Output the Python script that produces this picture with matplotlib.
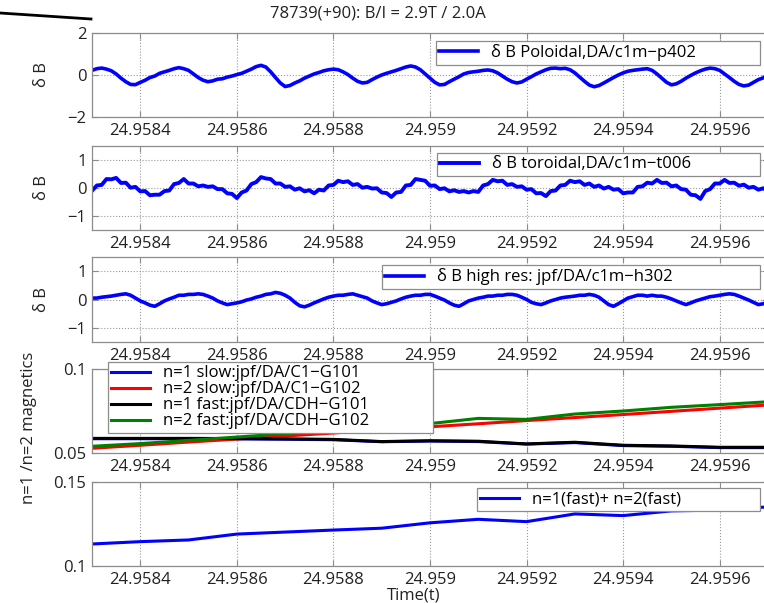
import numpy as np
import matplotlib.pyplot as plt
from matplotlib.lines import Line2D

plt.rcParams['font.family'] = ['Open Sans', 'DejaVu Sans']
plt.rcParams['font.size'] = 12

#%% Data
# fast signals: one sample every 10 us from 24.9583 to 24.9597
t_sig = np.linspace(24.9583, 24.9597, 141)

db_poloidal = [
    0.22, 0.30, 0.33, 0.28, 0.20, 0.05, -0.15, -0.32, -0.45, -0.46,
    -0.35, -0.25, -0.12, -0.05, 0.08, 0.15, 0.22, 0.30, 0.35, 0.30,
    0.22, 0.05, -0.12, -0.25, -0.32, -0.28, -0.20, -0.18, -0.10, -0.05,
    0.02, 0.08, 0.18, 0.28, 0.40, 0.46, 0.38, 0.15, -0.12, -0.38,
    -0.55, -0.50, -0.38, -0.28, -0.15, -0.05, 0.05, 0.12, 0.20, 0.25,
    0.28, 0.25, 0.15, 0.02, -0.15, -0.30, -0.38, -0.35, -0.22, -0.10,
    0.00, 0.08, 0.15, 0.22, 0.30, 0.38, 0.43, 0.38, 0.25, 0.05,
    -0.15, -0.35, -0.47, -0.45, -0.32, -0.20, -0.08, 0.05, 0.12, 0.15,
    0.18, 0.22, 0.24, 0.20, 0.10, -0.05, -0.20, -0.32, -0.38, -0.33,
    -0.20, -0.08, 0.05, 0.15, 0.25, 0.32, 0.33, 0.30, 0.32, 0.25,
    0.10, -0.10, -0.30, -0.48, -0.56, -0.50, -0.38, -0.25, -0.12, 0.00,
    0.10, 0.18, 0.22, 0.25, 0.28, 0.30, 0.22, 0.05, -0.15, -0.35,
    -0.47, -0.42, -0.30, -0.15, -0.02, 0.10, 0.20, 0.28, 0.33, 0.30,
    0.22, 0.05, -0.12, -0.30, -0.45, -0.52, -0.48, -0.35, -0.22, -0.14,
    -0.05]

db_toroidal = [
    -0.10, 0.09, 0.11, 0.32, 0.31, 0.36, 0.18, 0.19, 0.01, 0.04,
    -0.12, -0.11, -0.26, -0.24, -0.24, -0.11, -0.09, 0.14, 0.18, 0.32,
    0.16, 0.16, 0.06, 0.09, 0.04, 0.06, -0.04, -0.04, -0.19, -0.21,
    -0.36, -0.16, -0.09, 0.14, 0.21, 0.39, 0.34, 0.32, 0.16, 0.16,
    0.04, 0.06, -0.06, -0.01, -0.12, -0.08, -0.19, -0.06, -0.09, 0.09,
    0.11, 0.26, 0.21, 0.24, 0.11, 0.14, 0.01, 0.04, -0.02, -0.01,
    -0.16, -0.18, -0.32, -0.16, -0.14, 0.09, 0.11, 0.32, 0.29, 0.26,
    0.08, 0.09, -0.04, -0.01, -0.12, -0.08, -0.14, -0.11, -0.16, -0.11,
    -0.14, 0.09, 0.14, 0.29, 0.24, 0.26, 0.11, 0.14, 0.04, 0.06,
    -0.06, -0.04, -0.19, -0.18, -0.29, -0.11, -0.09, 0.09, 0.11, 0.26,
    0.21, 0.24, 0.11, 0.16, 0.04, 0.09, -0.02, 0.04, -0.06, -0.04,
    -0.19, -0.16, -0.16, 0.04, 0.06, 0.19, 0.16, 0.29, 0.18, 0.19,
    0.06, 0.09, -0.04, -0.06, -0.24, -0.26, -0.39, -0.11, -0.04, 0.16,
    0.16, 0.29, 0.18, 0.19, 0.08, 0.12, 0.01, 0.04, -0.06, -0.01,
    -0.12]

db_highres = [
    0.05, 0.05, 0.08, 0.10, 0.12, 0.15, 0.18, 0.20, 0.15, 0.05,
    -0.05, -0.12, -0.20, -0.24, -0.15, -0.05, 0.02, 0.08, 0.15, 0.15,
    0.18, 0.18, 0.20, 0.18, 0.12, 0.05, -0.05, -0.12, -0.18, -0.15,
    -0.12, -0.08, -0.02, 0.02, 0.08, 0.12, 0.18, 0.20, 0.25, 0.22,
    0.15, 0.05, -0.10, -0.22, -0.26, -0.20, -0.12, -0.05, 0.02, 0.08,
    0.12, 0.15, 0.15, 0.18, 0.20, 0.15, 0.10, 0.05, -0.05, -0.12,
    -0.18, -0.15, -0.10, -0.05, 0.02, 0.08, 0.12, 0.15, 0.15, 0.18,
    0.18, 0.12, 0.05, -0.02, -0.12, -0.20, -0.24, -0.15, -0.05, 0.00,
    0.05, 0.08, 0.12, 0.12, 0.15, 0.15, 0.18, 0.18, 0.15, 0.08,
    0.00, -0.10, -0.15, -0.18, -0.12, -0.05, 0.00, 0.05, 0.08, 0.10,
    0.12, 0.15, 0.15, 0.18, 0.15, 0.08, -0.05, -0.18, -0.24, -0.15,
    -0.05, 0.05, 0.10, 0.15, 0.15, 0.12, 0.15, 0.12, 0.12, 0.08,
    0.02, -0.05, -0.12, -0.18, -0.12, -0.05, 0.00, 0.05, 0.10, 0.12,
    0.15, 0.18, 0.20, 0.18, 0.12, 0.05, -0.02, -0.10, -0.18, -0.15,
    -0.10]

# mode amplitudes: one sample every 100 us
t_mode = [24.9583, 24.9584, 24.9585, 24.9586, 24.9587, 24.9588, 24.9589,
          24.9590, 24.9591, 24.9592, 24.9593, 24.9594, 24.9595, 24.9596,
          24.9597]
n1_slow = [0.0585, 0.0585, 0.0585, 0.0584, 0.0582, 0.0579, 0.0567, 0.0571,
           0.0568, 0.0553, 0.0562, 0.0544, 0.0540, 0.0532, 0.0532]
n2_slow = [0.0528, 0.0546, 0.0565, 0.0583, 0.0601, 0.0619, 0.0638, 0.0656,
           0.0674, 0.0693, 0.0711, 0.0729, 0.0748, 0.0767, 0.0786]
n1_fast = [0.0587, 0.0587, 0.0587, 0.0586, 0.0584, 0.0581, 0.0568, 0.0573,
           0.0570, 0.0554, 0.0564, 0.0546, 0.0542, 0.0534, 0.0534]
n2_fast = [0.0540, 0.0556, 0.0575, 0.0595, 0.0615, 0.0635, 0.0655, 0.0675,
           0.0706, 0.0700, 0.0732, 0.0750, 0.0772, 0.0788, 0.0805]
n12_fast = [0.1131, 0.1145, 0.1155, 0.1190, 0.1202, 0.1214, 0.1225, 0.1257,
            0.1278, 0.1264, 0.1310, 0.1300, 0.1328, 0.1333, 0.1352]

xtick_vals = [24.9584, 24.9586, 24.9588, 24.9590, 24.9592, 24.9594, 24.9596]
xtick_labels = ['24.9584', '24.9586', '24.9588', '24.959', '24.9592',
                '24.9594', '24.9596']

title = '78739(+90): B/I = 2.9T / 2.0A'
mode_labels = ['n=1 slow:jpf/DA/C1\u2212G101', 'n=2 slow:jpf/DA/C1\u2212G102',
               'n=1 fast:jpf/DA/CDH\u2212G101', 'n=2 fast:jpf/DA/CDH\u2212G102']

#%% Figure
W, H = 764, 603
fig = plt.figure(figsize=(W / 100, H / 100), dpi=100)
grey = '#8c8c8c'
ink = '#222222'


def axes_px(top, bottom, left=92, right=768):
    return fig.add_axes([left / W, 1 - bottom / H, (right - left) / W, (bottom - top) / H])


def style(ax, yticks, ylabels):
    ax.set_xlim(24.9583, 24.9597)
    ax.set_xticks(xtick_vals, xtick_labels)
    ax.set_yticks(yticks, ylabels)
    ax.grid(True, linestyle=':', color='#9a9a9a', linewidth=0.8)
    ax.tick_params(direction='in', top=True, right=True, length=4, color=grey,
                   labelcolor=ink, pad=4)
    for s in ax.spines.values():
        s.set_color(grey)
        s.set_linewidth(0.9)


def legend_px(ax, left, top, right, **kw):
    leg = ax.legend(loc='upper left', mode='expand', borderaxespad=0,
                    bbox_to_anchor=(left / W, 1 - top / H - 0.001, (right - left) / W, 0.001),
                    bbox_transform=fig.transFigure, fancybox=False, framealpha=1,
                    edgecolor=grey, handlelength=2.3, handletextpad=0.8, **kw)
    leg.get_frame().set_linewidth(0.9)
    return leg


# black stroke in the top-left corner of the original
fig.add_artist(Line2D([0, 91 / W], [1 - 13 / H, 1 - 19 / H], color='black', lw=2))
fig.text(378 / W, 1 - 14 / H, title, ha='center', va='center', color=ink)

ax1 = axes_px(33, 117)
ax1.plot(t_sig, db_poloidal, color='blue', lw=2.6, label='\u03b4 B Poloidal,DA/c1m\u2212p402')
style(ax1, [-2, 0, 2], ['\u22122', '0', '2'])
ax1.set_ylim(-2, 2)
legend_px(ax1, 436, 41, 760, borderpad=0.2)

ax2 = axes_px(146, 230)
ax2.plot(t_sig, db_toroidal, color='blue', lw=2.8, label='\u03b4 B toroidal,DA/c1m\u2212t006')
style(ax2, [-1, 0, 1], ['\u22121', '0', '1'])
ax2.set_ylim(-1.5, 1.5)
legend_px(ax2, 437, 153, 760, borderpad=0.2)

ax3 = axes_px(257, 342)
ax3.plot(t_sig, db_highres, color='blue', lw=2.6, label='\u03b4 B high res: jpf/DA/c1m\u2212h302')
style(ax3, [-1, 0, 1], ['\u22121', '0', '1'])
ax3.set_ylim(-1.5, 1.5)
legend_px(ax3, 382, 265, 760, borderpad=0.2)

for ax in (ax1, ax2, ax3):
    ax.set_ylabel('\u03b4 B', color=ink)
    ax.yaxis.set_label_coords(-0.062, 0.5)

ax4 = axes_px(369, 453)
ax4.plot(t_mode, n1_slow, color='blue', lw=2.2, label=mode_labels[0])
ax4.plot(t_mode, n2_slow, color='red', lw=2.2, label=mode_labels[1])
ax4.plot(t_mode, n1_fast, color='black', lw=2.2, label=mode_labels[2])
ax4.plot(t_mode, n2_fast, color='green', lw=2.2, label=mode_labels[3])
style(ax4, [0.05, 0.1], ['0.05', '0.1'])
ax4.set_ylim(0.05, 0.1)
legend_px(ax4, 108, 362, 433, labelspacing=0.0, borderpad=0.2)

ax5 = axes_px(482, 566)
ax5.plot(t_mode, n12_fast, color='blue', lw=2.2, label='n=1(fast)+ n=2(fast)')
style(ax5, [0.1, 0.15], ['0.1', '0.15'])
ax5.set_ylim(0.1, 0.15)
legend_px(ax5, 477, 488, 760, borderpad=0.2)
ax5.set_xlabel('Time(t)', color=ink)
ax5.xaxis.set_label_coords(0.476, -0.25)

fig.text(29 / W, 1 - 428 / H, 'n=1 /n=2 magnetics', rotation=90, ha='center', va='center',
         color=ink)

fig.savefig('out.png', dpi=100)
